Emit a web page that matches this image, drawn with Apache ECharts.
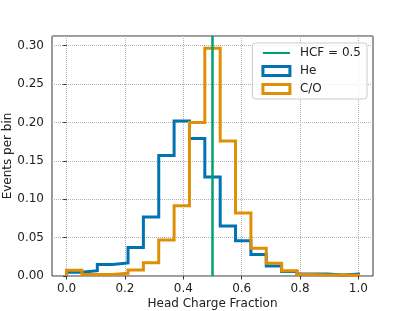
<!DOCTYPE html>
<html><head><meta charset="utf-8">
<script src="https://cdn.jsdelivr.net/npm/echarts@6/dist/echarts.min.js"></script>
<style>html,body{margin:0;padding:0;background:#fff}#c{width:415px;height:311px}</style>
</head><body><div id="c"></div>
<script>
// Histogram: 19 equal bins over [0, 1]
const binCount = 19;
const heValues = [0.005, 0.007, 0.015, 0.017, 0.037, 0.077, 0.157, 0.202, 0.179, 0.129, 0.065, 0.046, 0.028, 0.013, 0.006, 0.0026, 0.0026, 0.0013, 0.0026];
const coValues = [0.0074, 0.002, 0.002, 0.0035, 0.0078, 0.0173, 0.047, 0.0916, 0.200, 0.2966, 0.176, 0.082, 0.036, 0.0165, 0.0069, 0.0018, 0.0013, 0.0013, 0.001];
const hcfValue = 0.5;
const xTicks = [0.0, 0.2, 0.4, 0.6, 0.8, 1.0];
const seriesNames = ['HCF = 0.5', 'He', 'C/O'];
const colors = {hcf: '#029E73', he: '#0173B2', co: '#DE8F05'};

function stepPoints(vals) {
  const pts = [[0, 0]];
  for (let i = 0; i < vals.length; i++) {
    pts.push([i / binCount, vals[i]]);
    pts.push([(i + 1) / binCount, vals[i]]);
  }
  pts.push([1, 0]);
  return pts;
}

const font = 'DejaVu Sans';
const chart = echarts.init(document.getElementById('c'), null, {renderer: 'canvas'});
chart.setOption({
  animation: false,
  backgroundColor: '#fff',
  grid: {left: 52, right: 42, top: 36, bottom: 35, show: true, borderColor: '#333', borderWidth: 1,
         containLabel: false, outerBoundsMode: 'none'},
  legend: {
    top: 43, right: 48, orient: 'vertical', itemWidth: 27, itemHeight: 9, itemGap: 6,
    padding: [4, 6, 4, 9],
    backgroundColor: 'rgba(255,255,255,0.8)', borderColor: '#ccc', borderWidth: 1, borderRadius: 3,
    textStyle: {fontFamily: font, fontSize: 12, color: '#222', padding: [0, 0, 0, 5]},
    data: [
      {name: seriesNames[0], itemStyle: {color: 'rgba(0,0,0,0)', borderWidth: 0}},
      {name: seriesNames[1], icon: 'rect', itemStyle: {color: 'rgba(0,0,0,0)', borderColor: colors.he, borderWidth: 3}},
      {name: seriesNames[2], icon: 'rect', itemStyle: {color: 'rgba(0,0,0,0)', borderColor: colors.co, borderWidth: 3}}
    ]
  },
  xAxis: {
    type: 'value', min: -0.05, max: 1.05,
    name: 'Head Charge Fraction', nameLocation: 'middle', nameGap: 22, nameMoveOverlap: false,
    nameTextStyle: {fontFamily: font, fontSize: 12, color: '#222'},
    axisLine: {show: false},
    axisTick: {show: true, length: 3.5, customValues: xTicks, lineStyle: {color: '#333'}},
    axisLabel: {customValues: xTicks, margin: 7, fontFamily: font, fontSize: 12, color: '#222', formatter: v => v.toFixed(1)},
    splitLine: {show: true, customValues: xTicks, lineStyle: {type: 'dotted', color: '#b0b0b0', width: 1}}
  },
  yAxis: {
    type: 'value', min: 0, max: 0.3126, interval: 0.05,
    name: 'Events per bin', nameLocation: 'middle', nameGap: 38, nameMoveOverlap: false,
    nameTextStyle: {fontFamily: font, fontSize: 12, color: '#222'},
    axisLine: {show: false},
    axisTick: {show: true, length: 3.5, lineStyle: {color: '#333'}},
    axisLabel: {margin: 8, fontFamily: font, fontSize: 12, color: '#222', formatter: v => v.toFixed(2), showMaxLabel: false},
    splitLine: {show: true, lineStyle: {type: 'dotted', color: '#b0b0b0', width: 1}}
  },
  series: [
    {name: seriesNames[1], type: 'line', data: stepPoints(heValues), symbol: 'none', color: colors.he,
     lineStyle: {width: 3, color: colors.he, join: 'miter'}, z: 2},
    {name: seriesNames[2], type: 'line', data: stepPoints(coValues), symbol: 'none', color: colors.co,
     lineStyle: {width: 3, color: colors.co, join: 'miter'}, z: 3},
    {name: seriesNames[0], type: 'line', data: [], symbol: 'none', color: colors.hcf,
     lineStyle: {width: 2.5, color: colors.hcf}, z: 4,
     markLine: {silent: true, symbol: 'none', label: {show: false}, lineStyle: {color: colors.hcf, width: 2.5, type: 'solid'},
       data: [{xAxis: hcfValue}]}}
  ]
});
</script></body></html>
